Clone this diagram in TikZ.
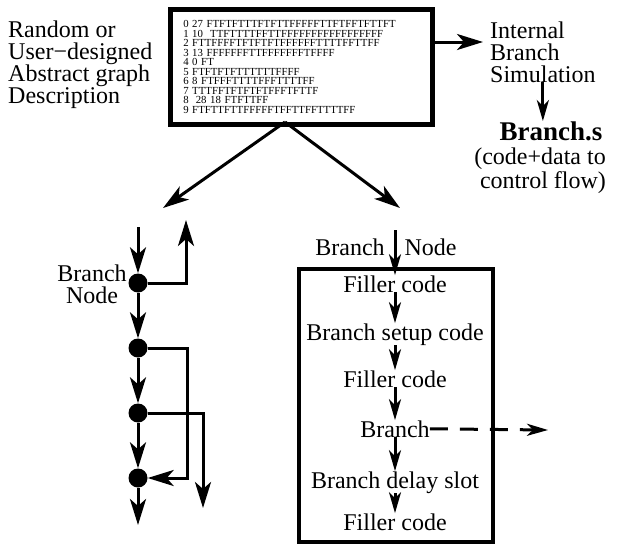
\documentclass[tikz,border=0pt]{standalone}
\usepackage{fontspec}
\setmainfont{Liberation Serif}
\usetikzlibrary{arrows.meta}

\begin{document}
\begin{tikzpicture}[x=1pt,y=1pt,line join=miter,
  >={Stealth[length=26pt,width=16pt,inset=7pt]},
  lbl/.style={inner sep=0pt,font=\fontsize{24}{22}\selectfont},
  dot/.style={circle,fill=black,inner sep=0pt,minimum size=19pt},
  flow/.style={line width=3pt,->},
  inbox/.style={line width=3pt,->,>={Stealth[length=21pt,width=12pt,inset=6pt]}}]
\useasboundingbox (0,0) rectangle (621,-544);

% graph description
\node[lbl,align=left,anchor=base west] (desc) at (8,-103) {Random or\\User−designed\\Abstract graph\\Description};
\node[draw,line width=4.5pt,anchor=north west,minimum width=262pt,minimum height=115pt,
  text width=236pt,inner xsep=12pt,inner ysep=0pt,align=left,font=\fontsize{10.8}{9.5}\selectfont] (graph) at (168,-7)
  {0 27 FTFTFTTTFTFTTFFFFFTTFTFFTFTTFT\\
   1 10\ \ TTFTTTTFFTTFFFFFFFFFFFFFFFFF\\
   2 FTTFFFFTFTFTFTFFFFFFTTTTFFTTFF\\
   3 13 FFFFFFFTTFFFFFFFTFFFF\\
   4 0 FT\\
   5 FTFTFTFTTTTTTFFFF\\
   6 8 FTFFFTTTTFFFTTTTFF\\
   7 TTTFFTFTFTFTFFFTFTTF\\
   8\ \ 28 18 FTFTTFF\\
   9 FTFTTFTTFFFFFTFFTTFFTTTTFF};

% simulation branch
\node[lbl,align=left,anchor=base west] (sim) at (490,-82) {Internal\\Branch\\Simulation};
\coordinate (simin) at (483,-42);
\draw[flow] (graph.east |- simin) -- (simin);
\node[inner sep=0pt,font=\fontsize{27}{27}\selectfont\bfseries,anchor=base] (brs) at (551,-140) {Branch.s};
\node[lbl,align=center,anchor=base] (brsnote) at (540,-188) {(code+data to\\\ control flow)};
\draw[inbox] (sim.south) -- (sim.south |- brs.north);

% split
\coordinate (split) at (285,-122);
\coordinate (toleft) at (163,-208);
\coordinate (toright) at (400,-208);
\draw[flow] (split) -- (toleft);
\draw[flow] (split) -- (toright);

% abstract graph
\coordinate (gtop) at (138,-227);
\coordinate (gbot) at (138,-525);
\foreach \i/\y in {1/283,2/348,3/413,4/478}
  \node[dot] (n\i) at (138,-\y) {};
\foreach \a/\b in {gtop/n1,n1/n2,n2/n3,n3/n4,n4/gbot}
  \draw[flow] (\a) -- (\b);
\node[lbl,align=center,anchor=base] (bnode) at (92,-303) {Branch\\Node};
\coordinate (up1) at (186,-220);
\draw[flow] (n1) -| (up1);
\coordinate (c2) at (187,-348);
\draw[flow] (n2) -- (c2) |- (n4);
\coordinate (d3) at (203,-508);
\draw[flow] (n3) -| (d3);

% code for one branch node
\node[draw,line width=4pt,minimum width=194pt,minimum height=273pt,inner sep=0pt] (codebox) at (395.5,-405) {};
\node[lbl,anchor=base] (bnlbl) at (386,-255) {Branch\hspace{20pt}Node};
\coordinate (bnin) at (395,-230);
\node[lbl,anchor=base] (fill1) at (395,-292) {Filler code};
\node[lbl,anchor=base] (setup) at (395,-340) {Branch setup code};
\node[lbl,anchor=base] (fill2) at (395,-387) {Filler code};
\node[lbl,anchor=base] (br) at (395,-437) {Branch};
\node[lbl,anchor=base] (slot) at (395,-488) {Branch delay slot};
\node[lbl,anchor=base] (fill3) at (395,-530) {Filler code};
\draw[inbox] (bnin) -- (fill1.north);
\foreach \a/\b in {fill1/setup,setup/fill2,fill2/br,br/slot,slot/fill3}
  \draw[inbox] (\a.south) -- (\b.north);
\coordinate (taken) at (548,-430);
\draw[inbox,dash pattern=on 18pt off 12pt] (br.east) -- (taken);
\end{tikzpicture}
\end{document}
